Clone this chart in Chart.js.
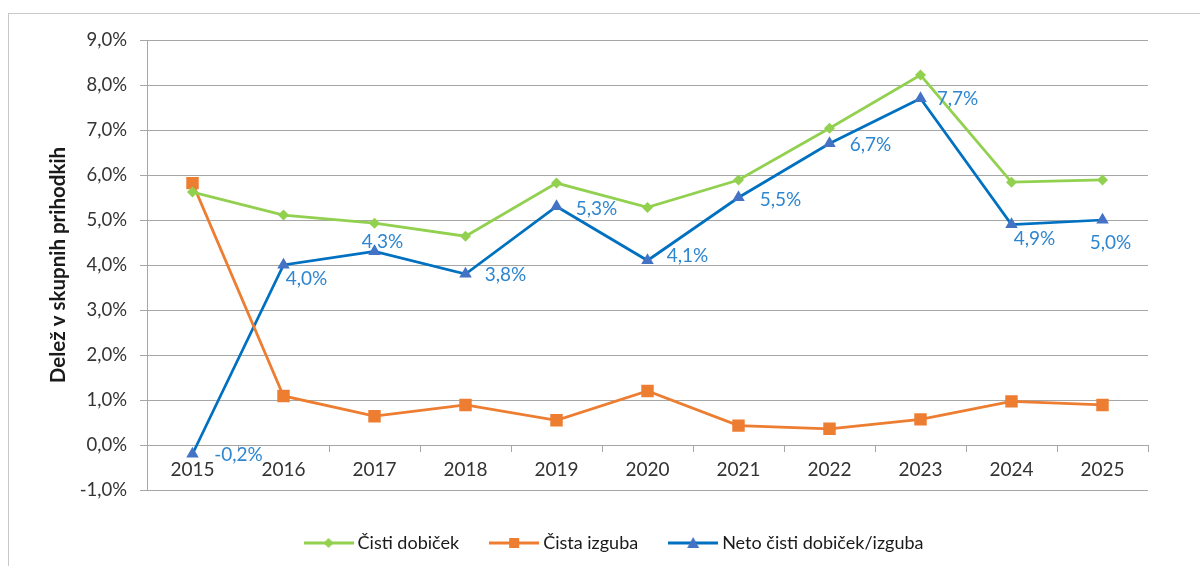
<!DOCTYPE html>
<html>
<head>
<meta charset="utf-8">
<script src="https://cdn.jsdelivr.net/npm/chart.js@4.4.1/dist/chart.umd.min.js"></script>
<style>
  html, body { margin: 0; padding: 0; background: #ffffff; overflow: hidden; }
  #wrap { position: relative; width: 1200px; height: 566px; overflow: hidden; }
  #frame { position: absolute; left: 8px; top: 13px; width: 1400px; height: 800px; border: 1px solid #c8c8c8; box-sizing: border-box; }
  canvas { position: absolute; left: 0; top: 0; }
</style>
</head>
<body>
<div id="wrap">
  <div id="frame"></div>
  <canvas id="c" width="1200" height="566"></canvas>
</div>
<script>
// ---- data ----
const years = ['2015','2016','2017','2018','2019','2020','2021','2022','2023','2024','2025'];
const cistiDobicek = [5.62, 5.11, 4.93, 4.64, 5.82, 5.28, 5.89, 7.04, 8.22, 5.84, 5.89];
const cistaIzguba  = [5.82, 1.09, 0.64, 0.89, 0.55, 1.20, 0.43, 0.36, 0.57, 0.97, 0.89];
const netoDobicek  = [-0.2, 4.0, 4.3, 3.8, 5.3, 4.1, 5.5, 6.7, 7.7, 4.9, 5.0];
const seriesNames  = ['Čisti dobiček', 'Čista izguba', 'Neto čisti dobiček/izguba'];
const yTicks = { min: -1, max: 9, step: 1 };
const yTitle = 'Delež v skupnih prihodkih';

// ---- style ----
const FONT = 'Lato, "Open Sans", sans-serif';
const GREEN = '#92D050', ORANGE = '#ED7D31', BLUE_LINE = '#0070C0', BLUE_MARK = '#4472C4';
const LABEL_BLUE = '#2E86D0';
const GRID = '#a6a6a6';
const PAD_LEFT = 84, PLOT_LEFT = 147, AXIS_LEFT = 20;
const fmt = v => v.toFixed(1).replace('.', ',') + '%';

function legendIcon(lineColor, markColor, style) {
  const c = document.createElement('canvas');
  c.width = 50; c.height = 16;
  const g = c.getContext('2d');
  g.strokeStyle = lineColor; g.lineWidth = 3;
  g.beginPath(); g.moveTo(0, 8); g.lineTo(50, 8); g.stroke();
  g.fillStyle = markColor;
  g.beginPath();
  if (style === 'diamond') { g.moveTo(25, 3); g.lineTo(30, 8); g.lineTo(25, 13); g.lineTo(20, 8); }
  else if (style === 'square') { g.rect(20, 3, 10, 10); }
  else { g.moveTo(25, 2); g.lineTo(31, 13); g.lineTo(19, 13); }
  g.closePath(); g.fill();
  return c;
}
const icons = [
  legendIcon(GREEN, GREEN, 'diamond'),
  legendIcon(ORANGE, ORANGE, 'square'),
  legendIcon(BLUE_LINE, BLUE_MARK, 'triangle')
];

// label offsets (dx, dy in px) for net series data labels
const netLabelOffsets = [[46,1],[23,14],[8,-10],[40,1],[40,2],[40,-5],[42,2],[41,1],[37,0],[23,14],[8,23]];

const netLabels = {
  id: 'netLabels',
  afterLayout(chart) {
    // widen the y-axis label clip region to the left (legend centring needs left padding)
    chart.scales.y.left = AXIS_LEFT;
  },
  afterDatasetsDraw(chart) {
    const meta = chart.getDatasetMeta(2);
    const ctx = chart.ctx;
    ctx.save();
    ctx.font = '19px ' + FONT;
    ctx.fillStyle = LABEL_BLUE;
    ctx.textAlign = 'center';
    ctx.textBaseline = 'middle';
    meta.data.forEach((pt, i) => {
      const o = netLabelOffsets[i];
      ctx.fillText(fmt(netoDobicek[i]), pt.x + o[0], pt.y + o[1]);
    });
    ctx.restore();
  }
};

new Chart(document.getElementById('c'), {
  type: 'line',
  data: {
    labels: years,
    datasets: [
      { label: seriesNames[0], data: cistiDobicek, borderColor: GREEN, backgroundColor: GREEN,
        borderWidth: 2.75, pointStyle: 'rectRot', pointRadius: 5.5, pointBorderWidth: 0, tension: 0 },
      { label: seriesNames[1], data: cistaIzguba, borderColor: ORANGE, backgroundColor: ORANGE,
        borderWidth: 2.75, pointStyle: 'rect', pointRadius: 8.8, pointBorderWidth: 0, tension: 0 },
      { label: seriesNames[2], data: netoDobicek, borderColor: BLUE_LINE, backgroundColor: BLUE_MARK,
        borderWidth: 2.75, pointStyle: 'triangle', pointRadius: 7.2, pointBorderWidth: 0, tension: 0 }
    ]
  },
  options: {
    responsive: false,
    animation: false,
    layout: { padding: { left: PAD_LEFT, top: 40, right: 52, bottom: 4 } },
    scales: {
      y: {
        min: yTicks.min, max: yTicks.max,
        afterFit: s => { s.width = PLOT_LEFT - PAD_LEFT; },
        ticks: { stepSize: yTicks.step, callback: v => fmt(v), color: '#333333', font: { family: FONT, size: 18.5 }, padding: 13 },
        grid: { color: GRID, lineWidth: 1, tickLength: 7 },
        border: { display: true, color: GRID, width: 1 },
        title: { display: true, text: yTitle, color: '#1a1a1a', font: { family: FONT, size: 20.5, weight: 'bold' }, padding: { top: 46 - AXIS_LEFT, bottom: 0 } }
      },
      x: {
        position: { y: 0 },
        offset: true,
        ticks: { color: '#333333', font: { family: FONT, size: 19 }, padding: 7, maxRotation: 0, autoSkip: false },
        grid: { display: true, drawOnChartArea: false, drawTicks: true, tickLength: 6, color: GRID, offset: true },
        border: { display: true, color: GRID, width: 1 }
      }
    },
    plugins: {
      tooltip: { enabled: false },
      legend: {
        position: 'bottom',
        title: { display: true, text: '', font: { size: 1, lineHeight: 1 }, padding: { top: 8, bottom: 0 } },
        labels: {
          usePointStyle: true,
          pointStyleWidth: 40,
          padding: 35,
          color: '#1a1a1a',
          font: { family: FONT, size: 18 },
          generateLabels: chart => chart.data.datasets.map((ds, i) => ({
            text: ds.label, pointStyle: icons[i], fillStyle: ds.borderColor, strokeStyle: ds.borderColor,
            lineWidth: 0, hidden: false, datasetIndex: i, fontColor: '#1a1a1a'
          }))
        }
      }
    }
  },
  plugins: [netLabels]
});
</script>
</body>
</html>
